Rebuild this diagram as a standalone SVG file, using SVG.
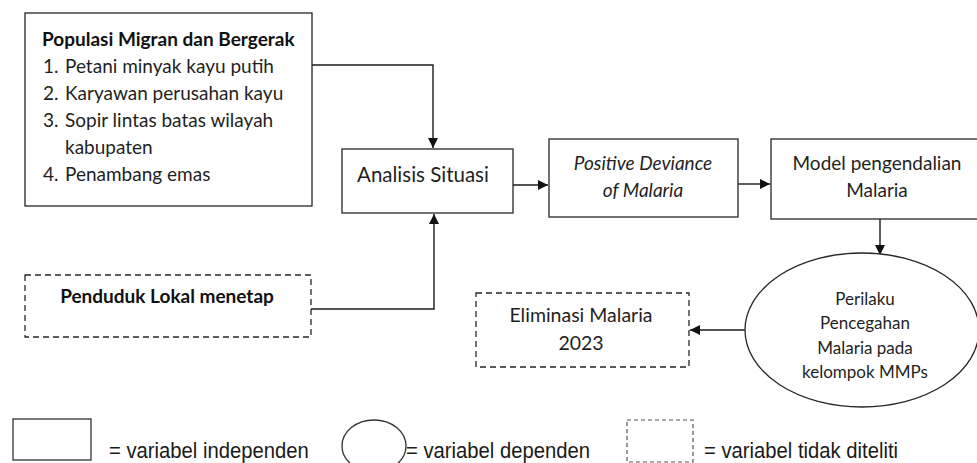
<svg xmlns="http://www.w3.org/2000/svg" width="977" height="463" viewBox="0 0 977 463">
  <style>
    .box { fill: #ffffff; stroke: #262626; stroke-width: 1.3; }
    .dash { fill: #ffffff; stroke: #262626; stroke-width: 1.3; stroke-dasharray: 6 4; }
    .wire { fill: none; stroke: #1a1a1a; stroke-width: 1.4; }
    .t { font-family: Lato, "Liberation Sans", sans-serif; font-size: 19px; fill: #1f1f1f; }
    .b { font-weight: bold; fill: #111111; }
    .i { font-style: italic; }
    .s { font-size: 17px; }
    .c { text-anchor: middle; }
    .lg { font-family: "Liberation Sans", Arial, sans-serif; font-size: 22.5px; fill: #1a1a1a; }
    .lgbox { fill: #ffffff; stroke: #333333; stroke-width: 1.3; }
    .lgdash { fill: #ffffff; stroke: #555555; stroke-width: 1.2; stroke-dasharray: 4 3; }
  </style>
  <defs>
    <marker id="arrow" viewBox="0 0 10 10" refX="10" refY="5" markerWidth="11" markerHeight="10" markerUnits="userSpaceOnUse" orient="auto">
      <path d="M0,0 L10,5 L0,10 z" fill="#111111"/>
    </marker>
  </defs>

  <rect width="977" height="463" fill="#ffffff"/>

  <!-- connectors -->
  <g id="connectors">
    <polyline class="wire" points="312,65 433,65 433,148" marker-end="url(#arrow)"/>
    <polyline class="wire" points="311,309 434,309 434,214" marker-end="url(#arrow)"/>
    <line class="wire" x1="513" y1="185" x2="548" y2="185" marker-end="url(#arrow)"/>
    <line class="wire" x1="738" y1="184" x2="770" y2="184" marker-end="url(#arrow)"/>
    <line class="wire" x1="880" y1="219" x2="880" y2="255" marker-end="url(#arrow)"/>
    <line class="wire" x1="745" y1="330" x2="690" y2="330" marker-end="url(#arrow)"/>
  </g>

  <!-- migrant and mobile population -->
  <g id="populasi">
    <rect class="box" x="25" y="13" width="287" height="193"/>
    <text class="t b" x="42" y="46">Populasi Migran dan Bergerak</text>
    <text class="t" x="43" y="73">1.</text>
    <text class="t" x="65" y="73">Petani minyak kayu putih</text>
    <text class="t" x="43" y="100">2.</text>
    <text class="t" x="65" y="100">Karyawan perusahan kayu</text>
    <text class="t" x="43" y="127">3.</text>
    <text class="t" x="65" y="127">Sopir lintas batas wilayah</text>
    <text class="t" x="65" y="154">kabupaten</text>
    <text class="t" x="43" y="181">4.</text>
    <text class="t" x="65" y="181">Penambang emas</text>
  </g>

  <!-- local residents -->
  <g id="penduduk">
    <rect class="dash" x="25" y="275" width="286" height="62"/>
    <text class="t b c" x="167" y="303">Penduduk Lokal menetap</text>
  </g>

  <!-- situation analysis -->
  <g id="analisis">
    <rect class="box" x="342" y="149" width="171" height="64"/>
    <text class="t c" x="423" y="182" style="font-size:20.5px">Analisis Situasi</text>
  </g>

  <!-- positive deviance -->
  <g id="positive-deviance">
    <rect class="box" x="549" y="139" width="189" height="78"/>
    <text class="t i c" x="643" y="170">Positive Deviance</text>
    <text class="t i c" x="643" y="197">of Malaria</text>
  </g>

  <!-- control model -->
  <g id="model">
    <rect class="box" x="771" y="139" width="212" height="80"/>
    <text class="t c" x="877" y="170">Model pengendalian</text>
    <text class="t c" x="877" y="197">Malaria</text>
  </g>

  <!-- prevention behaviour -->
  <g id="perilaku">
    <ellipse class="box" cx="862" cy="330" rx="117" ry="77"/>
    <text class="t s c" x="865" y="305">Perilaku</text>
    <text class="t s c" x="865" y="329">Pencegahan</text>
    <text class="t s c" x="865" y="353.5">Malaria pada</text>
    <text class="t s c" x="865" y="378">kelompok MMPs</text>
  </g>

  <!-- elimination target -->
  <g id="eliminasi">
    <rect class="dash" x="476" y="293" width="213" height="74"/>
    <text class="t c" x="581" y="322" style="font-size:19.5px">Eliminasi Malaria</text>
    <text class="t c" x="581" y="350" style="font-size:19.5px">2023</text>
  </g>

  <!-- legend -->
  <g id="legend">
    <rect class="lgbox" x="13" y="419" width="78" height="41"/>
    <text class="lg" transform="translate(109,458) scale(0.9,1)">= variabel independen</text>
    <ellipse class="lgbox" cx="374" cy="446" rx="32" ry="26"/>
    <text class="lg" transform="translate(406,458) scale(0.9,1)">= variabel dependen</text>
    <rect class="lgdash" x="627" y="420" width="66" height="42"/>
    <text class="lg" transform="translate(704,458) scale(0.9,1)">= variabel tidak diteliti</text>
  </g>
</svg>
